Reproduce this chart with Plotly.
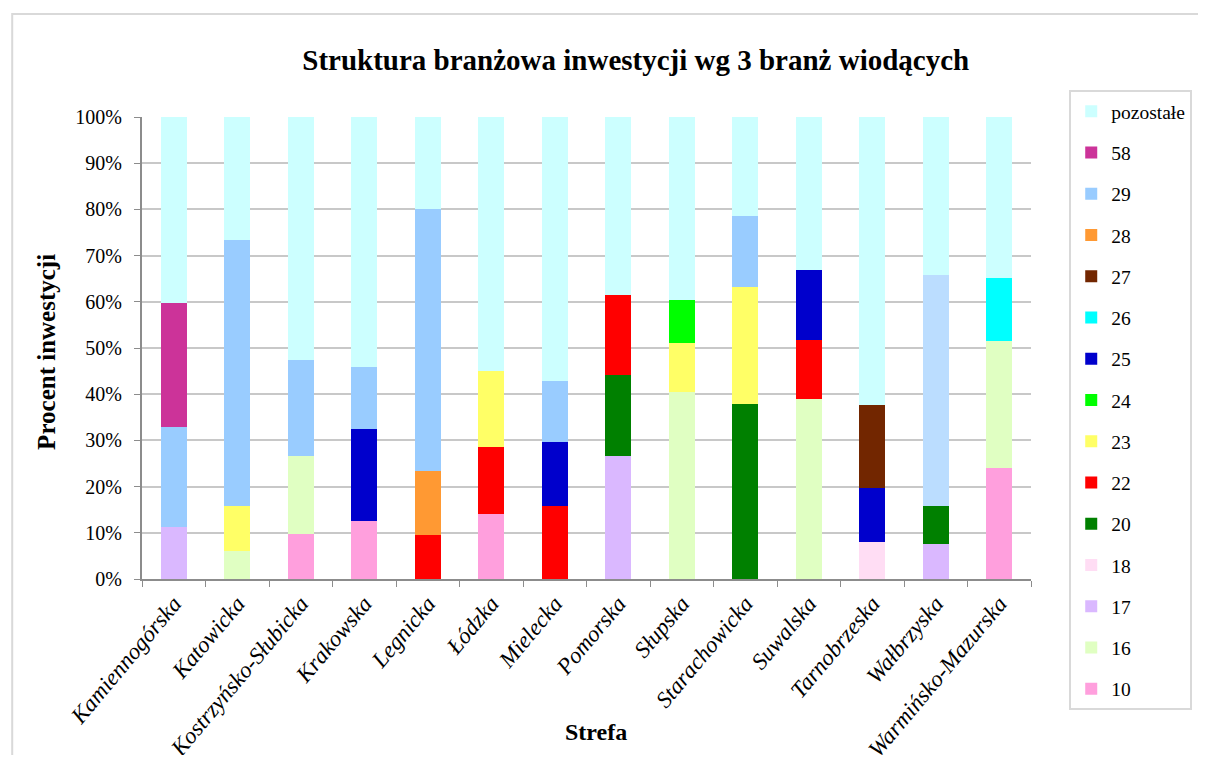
import plotly.graph_objects as go

categories = ["Kamiennogórska", "Katowicka", "Kostrzyńsko-Słubicka", "Krakowska", "Legnicka",
              "Łódzka", "Mielecka", "Pomorska", "Słupska", "Starachowicka", "Suwalska",
              "Tarnobrzeska", "Wałbrzyska", "Warmińsko-Mazurska"]

# series values (percent), bottom of stack first
s10 = [0, 0, 9.8, 12.6, 0, 14.1, 0, 0, 0, 0, 0, 0, 0, 24.1]
s16 = [0, 6.0, 16.8, 0, 0, 0, 0, 0, 40.4, 0, 38.9, 0, 0, 27.5]
s17 = [11.2, 0, 0, 0, 0, 0, 0, 26.7, 0, 0, 0, 0, 7.6, 0]
s18 = [0, 0, 0, 0, 0, 0, 0, 0, 0, 0, 0, 8.1, 0, 0]
s20 = [0, 0, 0, 0, 0, 0, 0, 17.4, 0, 37.8, 0, 0, 8.2, 0]
s22 = [0, 0, 0, 0, 9.6, 14.4, 15.9, 17.4, 0, 0, 12.8, 0, 0, 0]
s23 = [0, 9.8, 0, 0, 0, 16.5, 0, 0, 10.7, 25.3, 0, 0, 0, 0]
s24 = [0, 0, 0, 0, 0, 0, 0, 0, 9.2, 0, 0, 0, 0, 0]
s25 = [0, 0, 0, 19.9, 0, 0, 13.8, 0, 0, 0, 15.1, 11.5, 0, 0]
s26 = [0, 0, 0, 0, 0, 0, 0, 0, 0, 0, 0, 0, 0, 13.5]
s27 = [0, 0, 0, 0, 0, 0, 0, 0, 0, 0, 0, 18.0, 0, 0]
s28 = [0, 0, 0, 0, 13.8, 0, 0, 0, 0, 0, 0, 0, 0, 0]
s29 = [21.7, 57.6, 20.8, 13.3, 56.6, 0, 13.1, 0, 0, 15.5, 0, 0, 50.1, 0]
s58 = [26.8, 0, 0, 0, 0, 0, 0, 0, 0, 0, 0, 0, 0, 0]
pozostale = [40.3, 26.6, 52.6, 54.2, 20.0, 55.0, 57.2, 38.5, 39.7, 21.4, 33.2, 62.4, 34.1, 34.9]

series_names = ["10", "16", "17", "18", "20", "22", "23", "24", "25", "26", "27", "28", "29", "58", "pozostałe"]
series_values = [s10, s16, s17, s18, s20, s22, s23, s24, s25, s26, s27, s28, s29, s58, pozostale]
series_colors = ["#FF9FDD", "#E0FFC2", "#DAB8FF", "#FFDDF4", "#008000", "#FF0000", "#FFFF66",
                 "#00FF00", "#0000CC", "#00FFFF", "#722600", "#FF9933", "#99CCFF", "#CC3399", "#CCFFFF"]

FONT = "Liberation Serif"

fig = go.Figure()
for i, (name, vals, col) in enumerate(zip(series_names, series_values, series_colors)):
    colors = [col] * len(categories)
    if name == "29":
        colors[categories.index("Wałbrzyska")] = "#BBDDFF"
    fig.add_trace(go.Bar(
        x=categories, y=vals, name=name, marker=dict(color=colors, line=dict(width=0)),
        legendgroup=name, legendrank=1000 - i,
    ))

W, H = 1198, 747
MT, MB = 20, 20
GH = H - MT - MB


def py(ref_y):
    """paper y from reference pixel row (page has 8px body offset)."""
    return (H - MB - (ref_y - 8)) / GH


fig.update_layout(
    barmode="stack",
    bargap=0.59,
    width=W, height=H,
    paper_bgcolor="white", plot_bgcolor="white",
    margin=dict(l=134, r=175, t=MT, b=MB, autoexpand=False),
    font=dict(family=FONT, color="black"),
    title=dict(text="<b>Struktura branżowa inwestycji wg 3 branż wiodących</b>",
               x=0.524, xref="container", xanchor="center", y=1 - 52 / H, yanchor="middle",
               yref="container", font=dict(size=29, family=FONT)),
    legend=dict(
        traceorder="grouped", tracegroupgap=12.9,
        x=1.043, xanchor="left", y=py(90), yanchor="top",
        bordercolor="#D9D9D9", borderwidth=2, bgcolor="white",
        font=dict(size=19.5, family=FONT),
        itemwidth=30,
    ),
    showlegend=True,
)

fig.update_xaxes(
    type="category", tickangle=-50, tickson="boundaries", automargin=False,
    ticks="outside", ticklen=6, tickcolor="#8C8C8C",
    showline=True, linecolor="#8C8C8C", linewidth=2,
    tickfont=dict(size=23, family=FONT, style="italic"),
)
fig.update_yaxes(
    range=[0, 100], dtick=10, ticksuffix="%", automargin=False,
    domain=[py(579), py(117)],
    ticks="outside", ticklen=6, tickcolor="#8C8C8C", ticklabelstandoff=8,
    showline=True, linecolor="#8C8C8C", linewidth=2,
    showgrid=True, gridcolor="#C8C8C8", gridwidth=1.5,
    tickfont=dict(size=20, family=FONT),
)

# axis titles
fig.add_annotation(text="<b>Strefa</b>", xref="paper", yref="paper", x=0.511, y=py(732),
                   xanchor="center", yanchor="middle", showarrow=False,
                   font=dict(size=24, family=FONT))
fig.add_annotation(text="<b>Procent inwestycji</b>", xref="paper", yref="paper", x=-0.107, y=py(352),
                   xanchor="center", yanchor="middle", showarrow=False, textangle=-90,
                   font=dict(size=25, family=FONT))

# outer chart border
fig.add_shape(type="rect", xref="paper", yref="paper",
              x0=-0.146, x1=1.6, y0=-0.3, y1=py(14),
              line=dict(color="#D9D9D9", width=2), fillcolor="rgba(0,0,0,0)", layer="below")

fig.write_html("out.html")
